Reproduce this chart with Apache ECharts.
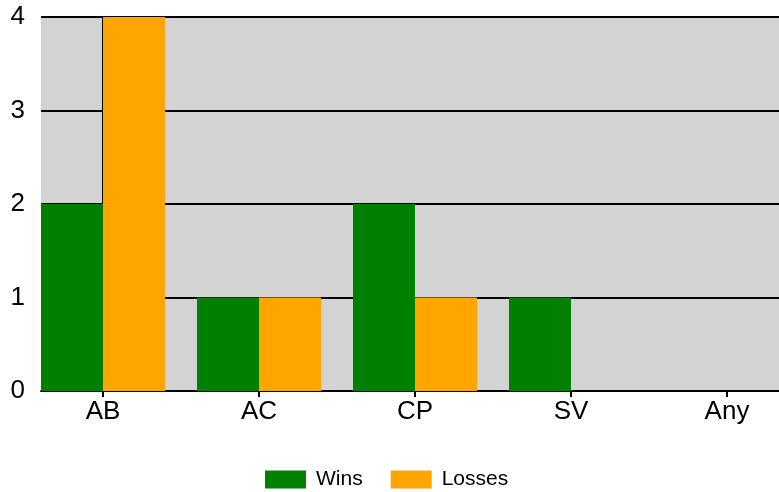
<!DOCTYPE html>
<html>
<head>
<meta charset="utf-8">
<script src="https://cdn.jsdelivr.net/npm/echarts@6/dist/echarts.min.js"></script>
<style>
  html, body { margin: 0; padding: 0; background: #fff; }
  #chart { width: 779px; height: 492px; }
</style>
</head>
<body>
<div id="chart"></div>
<script>
// chart data
const categories = ['AB', 'AC', 'CP', 'SV', 'Any'];
const wins = [2, 1, 2, 1, 0];
const losses = [4, 1, 1, 0, 0];
const yTicks = [0, 1, 2, 3, 4];

const font = 'Liberation Sans, Arial, sans-serif';
const catIndex = categories.map((c, i) => i);

const chart = echarts.init(document.getElementById('chart'));

chart.setOption({
  animation: false,
  textStyle: { fontFamily: font },
  legend: {
    data: ['Wins', 'Losses'],
    top: 464,
    left: 260,
    icon: 'rect',
    itemWidth: 41,
    itemHeight: 18,
    itemGap: 28,
    textStyle: { fontSize: 21, color: '#000', fontFamily: font, padding: [0, 0, 0, 5] }
  },
  grid: { left: 41, right: 0, top: 17, bottom: 101, backgroundColor: '#d3d3d3', show: true, borderWidth: 0 },
  xAxis: {
    type: 'value',
    min: -0.3974,
    max: 4.3333,
    axisLine: { show: true, onZero: false, lineStyle: { color: '#000', width: 2 } },
    axisTick: { show: true, length: 6, customValues: catIndex, lineStyle: { color: '#000', width: 2 } },
    axisLabel: {
      customValues: catIndex,
      formatter: v => categories[Math.round(v)],
      fontSize: 26, color: '#000', margin: 8, fontFamily: font
    },
    splitLine: { show: false }
  },
  yAxis: {
    type: 'value',
    min: yTicks[0],
    max: yTicks[yTicks.length - 1],
    interval: 1,
    axisLine: { show: true, lineStyle: { color: '#000', width: 2 } },
    axisTick: { show: true, length: 8, lineStyle: { color: '#000', width: 2 } },
    axisLabel: { fontSize: 26, color: '#000', margin: 16, fontFamily: font },
    splitLine: { show: true, lineStyle: { color: '#000', width: 2 } }
  },
  series: [
    {
      name: 'Wins',
      type: 'bar',
      barWidth: 62,
      barGap: '0%',
      itemStyle: { color: '#008000' },
      data: wins.map((v, i) => [i, v])
    },
    {
      name: 'Losses',
      type: 'bar',
      barWidth: 62,
      barGap: '0%',
      itemStyle: { color: '#ffa500' },
      data: losses.map((v, i) => [i, v])
    }
  ]
});
</script>
</body>
</html>
